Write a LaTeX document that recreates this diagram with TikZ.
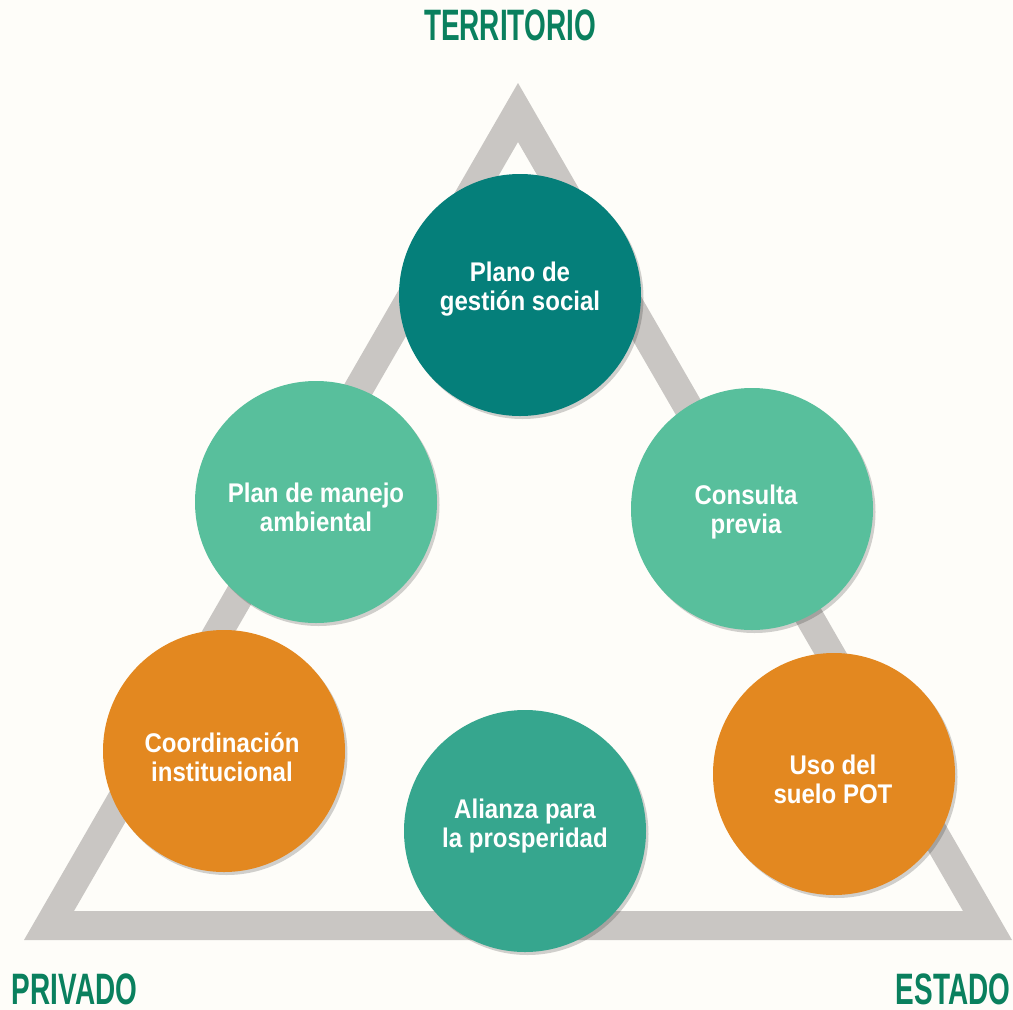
\documentclass[tikz,border=0pt]{standalone}
\usepackage{fontspec}
\usetikzlibrary{shadows}
\newfontfamily\circfont[FakeStretch=0.89]{Liberation Sans}
\newfontfamily\labfont[FakeStretch=0.635]{Liberation Sans}
\definecolor{bgc}{HTML}{FEFDF9}
\definecolor{bandc}{HTML}{C9C6C3}
\definecolor{darkteal}{HTML}{057F7A}
\definecolor{lightgreen}{HTML}{58BF9C}
\definecolor{orangec}{HTML}{E38820}
\definecolor{midteal}{HTML}{36A68E}
\definecolor{labgreen}{HTML}{0A805E}
\tikzset{
  circ/.style={circle, minimum size=242pt, inner sep=0pt,
    drop shadow={shadow xshift=2.5pt, shadow yshift=-3pt, opacity=0.18, fill=black}},
  ctext/.style={text=white, align=center, font=\circfont\bfseries\fontsize{27}{29}\selectfont},
  corner/.style={text=labgreen, font=\labfont\bfseries\fontsize{44}{44}\selectfont,
    inner sep=0pt, text depth=0pt, text height=32pt, anchor=base}
}
\begin{document}
\begin{tikzpicture}[x=1pt,y=-1pt]
\useasboundingbox (0,0) rectangle (1013,1010);
\fill[bgc] (0,0) rectangle (1013,1010);
\fill[bandc, even odd rule] (518,83) -- (24,940) -- (1012,940) -- cycle
  (518,142) -- (74,911) -- (963,911) -- cycle;
\node[circ, fill=darkteal] (c1) at (520,295) {};
\node[circ, fill=lightgreen] (c2) at (316,502) {};
\node[circ, fill=lightgreen] (c3) at (752,509) {};
\node[circ, fill=orangec] (c4) at (224,751) {};
\node[circ, fill=midteal] (c5) at (525,831) {};
\node[circ, fill=orangec] (c6) at (834,774) {};
\node[ctext] (t1) at (520,289) {Plano de\\gestión social};
\node[ctext] (t2) at (316,507) {Plan de manejo\\ambiental};
\node[ctext] (t3) at (746,512) {Consulta\\previa};
\node[ctext] (t4) at (222,757) {Coordinación\\institucional};
\node[ctext] (t5) at (525,826) {Alianza para\\la prosperidad};
\node[ctext] (t6) at (833,779) {Uso del\\suelo POT};
\node[corner] (lt) at (510,40) {TERRITORIO};
\node[corner] (lp) at (74.5,1004) {PRIVADO};
\node[corner] (le) at (953,1004) {ESTADO};
\end{tikzpicture}
\end{document}
